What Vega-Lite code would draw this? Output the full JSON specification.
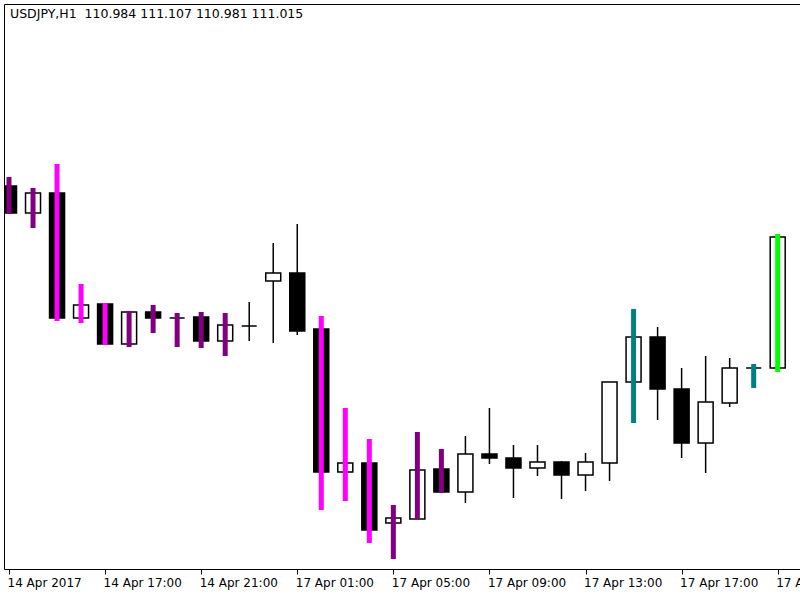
{
  "$schema": "https://vega.github.io/schema/vega-lite/v6.json",
  "width": 796,
  "height": 565,
  "autosize": {"type": "none"},
  "padding": {"left": 4, "top": 4, "right": 0, "bottom": 31},
  "background": "white",
  "config": {
    "view": {"stroke": null},
    "font": "DejaVu Sans",
    "axis": {"domainColor": "black", "domainWidth": 1, "tickColor": "black", "labelColor": "black", "labelFont": "DejaVu Sans", "labelFontSize": 12, "grid": false}
  },
  "title": {
    "text": "USDJPY,H1\u00a0\u00a0110.984 111.107 110.981 111.015",
    "anchor": "start",
    "frame": "group",
    "orient": "top",
    "offset": 0,
    "baseline": "alphabetic",
    "dx": 6,
    "dy": 26.5,
    "font": "DejaVu Sans",
    "fontSize": 12.5,
    "fontWeight": "normal",
    "color": "black"
  },
  "data": {
    "values": [
      {"i": 0, "t": "14 Apr 13:00", "o": 111.118, "h": 111.127, "l": 111.090, "c": 111.091, "sig": "bear"},
      {"i": 1, "t": "14 Apr 14:00", "o": 111.091, "h": 111.116, "l": 111.076, "c": 111.111, "sig": "bear"},
      {"i": 2, "t": "14 Apr 15:00", "o": 111.111, "h": 111.140, "l": 110.983, "c": 110.986, "sig": "strong bear"},
      {"i": 3, "t": "14 Apr 16:00", "o": 110.986, "h": 111.020, "l": 110.981, "c": 110.999, "sig": "strong bear"},
      {"i": 4, "t": "14 Apr 17:00", "o": 111.000, "h": 111.001, "l": 110.959, "c": 110.960, "sig": "strong bear"},
      {"i": 5, "t": "14 Apr 18:00", "o": 110.960, "h": 110.993, "l": 110.957, "c": 110.992, "sig": "bear"},
      {"i": 6, "t": "14 Apr 19:00", "o": 110.992, "h": 110.999, "l": 110.971, "c": 110.986, "sig": "bear"},
      {"i": 7, "t": "14 Apr 20:00", "o": 110.986, "h": 110.991, "l": 110.957, "c": 110.986, "sig": "bear"},
      {"i": 8, "t": "14 Apr 21:00", "o": 110.987, "h": 110.992, "l": 110.956, "c": 110.963, "sig": "bear"},
      {"i": 9, "t": "14 Apr 22:00", "o": 110.963, "h": 110.991, "l": 110.948, "c": 110.979, "sig": "bear"},
      {"i": 10, "t": "14 Apr 23:00", "o": 110.978, "h": 111.002, "l": 110.963, "c": 110.978, "sig": null},
      {"i": 11, "t": "17 Apr 00:00", "o": 111.023, "h": 111.061, "l": 110.961, "c": 111.031, "sig": null},
      {"i": 12, "t": "17 Apr 01:00", "o": 111.031, "h": 111.080, "l": 110.969, "c": 110.973, "sig": null},
      {"i": 13, "t": "17 Apr 02:00", "o": 110.975, "h": 110.988, "l": 110.794, "c": 110.832, "sig": "strong bear"},
      {"i": 14, "t": "17 Apr 03:00", "o": 110.832, "h": 110.896, "l": 110.803, "c": 110.841, "sig": "strong bear"},
      {"i": 15, "t": "17 Apr 04:00", "o": 110.841, "h": 110.865, "l": 110.761, "c": 110.774, "sig": "strong bear"},
      {"i": 16, "t": "17 Apr 05:00", "o": 110.781, "h": 110.799, "l": 110.745, "c": 110.786, "sig": "bear"},
      {"i": 17, "t": "17 Apr 06:00", "o": 110.785, "h": 110.872, "l": 110.785, "c": 110.834, "sig": "bear"},
      {"i": 18, "t": "17 Apr 07:00", "o": 110.835, "h": 110.855, "l": 110.811, "c": 110.812, "sig": "bear"},
      {"i": 19, "t": "17 Apr 08:00", "o": 110.812, "h": 110.868, "l": 110.801, "c": 110.850, "sig": null},
      {"i": 20, "t": "17 Apr 09:00", "o": 110.850, "h": 110.896, "l": 110.840, "c": 110.846, "sig": null},
      {"i": 21, "t": "17 Apr 10:00", "o": 110.846, "h": 110.859, "l": 110.806, "c": 110.836, "sig": null},
      {"i": 22, "t": "17 Apr 11:00", "o": 110.836, "h": 110.859, "l": 110.828, "c": 110.842, "sig": null},
      {"i": 23, "t": "17 Apr 12:00", "o": 110.842, "h": 110.843, "l": 110.805, "c": 110.829, "sig": null},
      {"i": 24, "t": "17 Apr 13:00", "o": 110.829, "h": 110.851, "l": 110.813, "c": 110.842, "sig": null},
      {"i": 25, "t": "17 Apr 14:00", "o": 110.841, "h": 110.922, "l": 110.823, "c": 110.922, "sig": null},
      {"i": 26, "t": "17 Apr 15:00", "o": 110.922, "h": 110.995, "l": 110.881, "c": 110.967, "sig": "bull"},
      {"i": 27, "t": "17 Apr 16:00", "o": 110.967, "h": 110.977, "l": 110.884, "c": 110.915, "sig": null},
      {"i": 28, "t": "17 Apr 17:00", "o": 110.915, "h": 110.936, "l": 110.846, "c": 110.861, "sig": null},
      {"i": 29, "t": "17 Apr 18:00", "o": 110.861, "h": 110.948, "l": 110.831, "c": 110.902, "sig": null},
      {"i": 30, "t": "17 Apr 19:00", "o": 110.901, "h": 110.946, "l": 110.897, "c": 110.936, "sig": null},
      {"i": 31, "t": "17 Apr 20:00", "o": 110.936, "h": 110.940, "l": 110.916, "c": 110.936, "sig": "bull"},
      {"i": 32, "t": "17 Apr 21:00", "o": 110.936, "h": 111.070, "l": 110.932, "c": 111.067, "sig": "strong bull"}
    ]
  },
  "layer": [
    {
      "mark": {"type": "rule", "color": "black", "strokeWidth": 1.5, "clip": true},
      "encoding": {
        "x": {
          "field": "i", "type": "quantitative",
          "scale": {"domain": [0, 32.72], "nice": false, "zero": false},
          "axis": {
            "orient": "bottom", "title": null, "values": [0, 4, 8, 12, 16, 20, 24, 28, 32],
            "labelExpr": "['14 Apr 2017','14 Apr 17:00','14 Apr 21:00','17 Apr 01:00','17 Apr 05:00','17 Apr 09:00','17 Apr 13:00','17 Apr 17:00','17 Apr 21:00'][round(datum.value/4)]",
            "ticks": true, "tickSize": 5, "tickWidth": 1, "labelAlign": "left", "labelBaseline": "top", "labelPadding": 3, "labelOffset": -2,
            "labelOverlap": false, "labelBound": false, "labelFlush": false
          }
        },
        "y": {
          "field": "l", "type": "quantitative",
          "scale": {"domain": [110.735, 111.3], "nice": false, "zero": false},
          "axis": {"orient": "left", "title": null, "labels": false, "ticks": false, "domain": true}
        },
        "y2": {"field": "h"}
      }
    },
    {
      "mark": {"type": "bar", "orient": "vertical", "size": 15, "stroke": "black", "strokeWidth": 1.5, "clip": true},
      "encoding": {
        "x": {
          "field": "i", "type": "quantitative",
          "axis": {"orient": "top", "title": null, "labels": false, "ticks": false, "domain": true}
        },
        "y": {"field": "o", "type": "quantitative"},
        "y2": {"field": "c"},
        "fill": {"condition": {"test": "datum.c < datum.o", "value": "black"}, "value": "white"}
      }
    },
    {
      "transform": [{"filter": "datum.sig != null"}],
      "mark": {"type": "rule", "strokeWidth": 5, "strokeCap": "butt", "clip": true},
      "encoding": {
        "x": {"field": "i", "type": "quantitative", "axis": null},
        "y": {"field": "l", "type": "quantitative"},
        "y2": {"field": "h"},
        "color": {
          "field": "sig", "type": "nominal", "legend": null,
          "scale": {"domain": ["strong bear", "bear", "bull", "strong bull"], "range": ["#ff00ff", "#800080", "#008080", "#00ff00"]}
        }
      }
    }
  ],
  "resolve": {"axis": {"x": "independent"}}
}
